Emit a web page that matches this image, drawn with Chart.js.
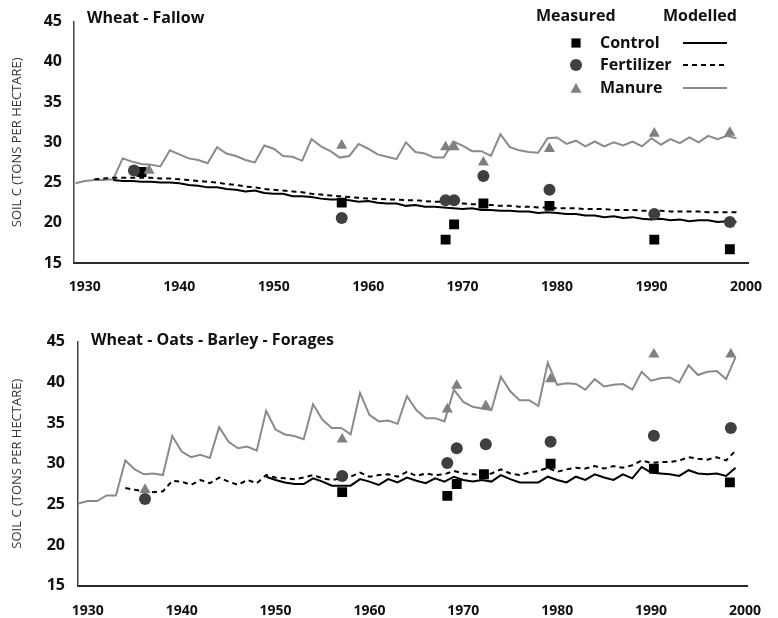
<!DOCTYPE html>
<html><head><meta charset="utf-8">
<script src="https://cdn.jsdelivr.net/npm/chart.js@4.4.1/dist/chart.umd.min.js"></script>
<style>
html,body{margin:0;padding:0;background:#fff;}
#wrap{position:relative;width:778px;height:618px;overflow:hidden;}
canvas{position:absolute;left:0;}
</style></head><body>
<div id="wrap">
<canvas id="c1" width="778" height="300" style="top:0px"></canvas>
<canvas id="c2" width="778" height="318" style="top:300px"></canvas>
</div>
<script>
// ---------- DATA ----------
const xTickYears = [1930, 1940, 1950, 1960, 1970, 1980, 1990, 2000];
const yTickValues = [15, 20, 25, 30, 35, 40, 45];
const modelYears = [1929,1930,1931,1932,1933,1934,1935,1936,1937,1938,1939,1940,1941,1942,1943,1944,1945,1946,1947,1948,1949,1950,1951,1952,1953,1954,1955,1956,1957,1958,1959,1960,1961,1962,1963,1964,1965,1966,1967,1968,1969,1970,1971,1972,1973,1974,1975,1976,1977,1978,1979,1980,1981,1982,1983,1984,1985,1986,1987,1988,1989,1990,1991,1992,1993,1994,1995,1996,1997,1998,1999];

// Wheat - Fallow (modelled)
const topManureModel = [24.9,25.2,25.3,25.3,25.4,28.0,27.6,27.3,27.2,27.0,29.0,28.5,28.0,27.8,27.4,29.4,28.6,28.3,27.8,27.5,29.6,29.2,28.3,28.2,27.7,30.4,29.5,28.9,28.1,28.3,29.8,29.2,28.5,28.2,27.9,30.0,28.8,28.6,28.1,28.1,30.1,29.6,28.9,28.9,28.3,31.0,29.4,29.0,28.8,28.7,30.5,30.6,29.8,30.2,29.5,30.1,29.5,30.0,29.6,30.1,29.5,30.5,29.7,30.4,29.9,30.6,30.0,30.8,30.4,30.8,30.5];
const topFertilizerModel = [null,null,25.4,25.5,25.6,25.6,25.6,25.6,25.6,25.5,25.5,25.4,25.3,25.2,25.1,25.0,24.8,24.7,24.5,24.4,24.2,24.1,24.0,23.9,23.8,23.6,23.5,23.4,23.3,23.2,23.1,23.0,23.0,22.9,22.9,22.8,22.8,22.7,22.6,22.6,22.5,22.4,22.3,22.3,22.2,22.1,22.1,22.0,22.0,21.9,21.9,21.8,21.8,21.8,21.7,21.7,21.7,21.6,21.6,21.6,21.5,21.5,21.5,21.4,21.4,21.4,21.4,21.3,21.3,21.3,21.3];
const topControlModel = [null,null,null,null,25.3,25.2,25.2,25.1,25.1,25.0,25.0,24.9,24.7,24.6,24.4,24.4,24.2,24.1,23.9,24.0,23.7,23.6,23.6,23.3,23.3,23.2,23.0,22.9,22.9,22.8,22.6,22.7,22.5,22.4,22.4,22.1,22.2,22.0,22.0,21.9,21.8,21.7,21.8,21.6,21.6,21.5,21.5,21.4,21.4,21.2,21.3,21.2,21.1,21.1,20.9,20.9,20.7,20.8,20.6,20.7,20.5,20.4,20.5,20.3,20.4,20.2,20.3,20.3,20.1,20.2,20.1];

// Wheat - Fallow (measured)
const topControlYears = [1936.0, 1957.2, 1968.2, 1969.1, 1972.2, 1979.2, 1990.3, 1998.3];
const topControlSoilC = [26.3, 22.5, 17.9, 19.8, 22.4, 22.1, 17.9, 16.7];
const topFertilizerYears = [1935.2, 1957.2, 1968.2, 1969.1, 1972.2, 1979.2, 1990.3, 1998.3];
const topFertilizerSoilC = [26.5, 20.6, 22.8, 22.8, 25.8, 24.1, 21.1, 20.1];
const topManureYears = [1936.8, 1957.2, 1968.2, 1969.1, 1972.2, 1979.2, 1990.3, 1998.3];
const topManureSoilC = [26.5, 29.6, 29.4, 29.4, 27.5, 29.2, 31.1, 31.2];

// Wheat - Oats - Barley - Forages (modelled)
const botManureModel = [25.1,25.4,25.4,26.1,26.1,30.4,29.3,28.7,28.8,28.6,33.4,31.5,30.8,31.1,30.7,34.5,32.7,31.9,32.1,31.6,36.5,34.2,33.6,33.4,33.0,37.3,35.4,34.4,34.4,33.6,38.7,36.0,35.2,35.3,34.9,38.3,36.6,35.6,35.6,35.2,39.1,37.6,37.0,36.8,36.6,40.7,38.9,37.8,37.8,37.1,42.4,39.7,39.9,39.8,39.1,40.4,39.5,39.7,39.8,39.1,41.3,40.2,40.5,40.6,40.0,42.1,40.9,41.3,41.4,40.4,43.1];
const botFertilizerModel = [null,null,null,null,null,27.0,26.8,26.6,26.5,26.6,27.9,27.8,27.4,28.0,27.6,28.3,27.8,27.4,28.0,27.6,28.6,28.3,28.2,28.1,28.3,28.6,28.2,28.0,28.2,28.4,28.9,28.4,28.6,28.7,28.4,29.0,28.5,28.8,28.6,28.7,29.1,28.8,28.7,28.6,28.8,29.3,28.8,28.6,28.9,29.1,29.5,29.0,29.3,29.5,29.4,29.7,29.4,29.7,29.5,29.8,30.4,30.1,30.2,30.2,30.4,30.8,30.6,30.5,30.8,30.4,31.6];
const botControlModel = [null,null,null,null,null,null,null,null,null,null,null,null,null,null,null,null,null,null,null,null,28.4,28.0,27.7,27.5,27.5,28.2,27.8,27.3,27.3,27.3,28.1,27.8,27.4,28.1,27.7,28.3,27.9,27.6,28.2,27.8,28.4,28.0,27.8,28.0,27.8,28.6,28.1,27.7,27.7,27.7,28.4,28.0,27.7,28.4,28.0,28.7,28.3,28.0,28.7,28.2,29.6,28.9,28.8,28.7,28.5,29.2,28.8,28.7,28.8,28.5,29.5];

// Wheat - Oats - Barley - Forages (measured)
const botControlYears = [1957.1, 1968.3, 1969.3, 1972.2, 1979.3, 1990.3, 1998.4];
const botControlSoilC = [26.5, 26.05, 27.5, 28.7, 30.0, 29.4, 27.7];
const botFertilizerYears = [1936.1, 1957.1, 1968.3, 1969.3, 1972.4, 1979.3, 1990.3, 1998.5];
const botFertilizerSoilC = [25.65, 28.5, 30.1, 31.9, 32.4, 32.7, 33.45, 34.4];
const botManureYears = [1936.1, 1957.1, 1968.3, 1969.3, 1972.4, 1979.3, 1990.3, 1998.5];
const botManureSoilC = [26.8, 33.0, 36.7, 39.6, 37.1, 40.4, 43.45, 43.45];

// ---------- STYLE ----------
const BOLD = "'Open Sans', 'DejaVu Sans', sans-serif";
const COL_CTRL = '#000000', COL_FERT = '#3f3f3f', COL_MAN = '#808080', COL_MAN_LINE = '#8a8a8a';

function pairs(xs, ys) {
  return xs.map((x, i) => ({x: x, y: ys[i]})).filter(p => p.y !== null);
}

function lineDs(label, ys, color, dash, order) {
  return {type: 'line', label, data: pairs(modelYears, ys), borderColor: color, borderWidth: 2,
    borderDash: dash, pointRadius: 0, tension: 0, fill: false, order, spanGaps: false};
}
function pointDs(label, xs, ys, style, color, r, order) {
  return {type: 'line', label, data: pairs(xs, ys), showLine: false, pointStyle: style,
    pointRadius: r, pointHoverRadius: r, pointBackgroundColor: color, pointBorderColor: color,
    pointBorderWidth: 0, order};
}

function makeOptions(cfg) {
  return {
    responsive: false, animation: false, devicePixelRatio: 1,
    layout: {padding: {top: cfg.padTop, right: cfg.padRight, left: 0, bottom: 0}},
    plugins: {legend: {display: false}, tooltip: {enabled: false}},
    scales: {
      x: {
        type: 'linear', min: cfg.xMin, max: cfg.xMax,
        afterBuildTicks: s => { s.ticks = xTickYears.map(v => ({value: v})); },
        afterFit: s => { s.height = cfg.xAxisHeight; },
        grid: {display: false, drawTicks: false},
        border: {display: true, color: '#2a2a2a', width: 2},
        ticks: {padding: cfg.xPad, autoSkip: false, maxRotation: 0, color: '#111',
          font: {family: BOLD, weight: 'bold', size: 14}, callback: v => String(v)}
      },
      y: {
        min: 15, max: 45,
        afterBuildTicks: s => { s.ticks = yTickValues.map(v => ({value: v})); },
        afterFit: s => { s.width = cfg.yAxisWidth; },
        grid: {display: false, drawTicks: false},
        border: {display: true, color: '#444', width: 1.5},
        ticks: {padding: cfg.yPad, color: '#111', font: {family: BOLD, weight: 'bold', size: 16},
          callback: v => String(v)},
        title: {display: true, text: 'SOIL C (TONS PER HECTARE)', color: '#333',
          font: {family: "'Open Sans', sans-serif", size: 13}, padding: {top: 9, bottom: 0}}
      }
    }
  };
}

function titlePlugin(text, x, y) {
  return {
    id: 'panelTitle',
    afterDraw(chart) {
      const ctx = chart.ctx;
      ctx.save();
      ctx.font = "bold 16px " + BOLD;
      ctx.fillStyle = '#111';
      ctx.textAlign = 'left';
      ctx.textBaseline = 'middle';
      ctx.fillText(text, x, y);
      ctx.restore();
    }
  };
}

const legendPlugin = {
  id: 'twoColLegend',
  afterDraw(chart) {
    const ctx = chart.ctx;
    const H = Chart.helpers;
    ctx.save();
    ctx.fillStyle = '#111';
    ctx.textBaseline = 'middle';
    ctx.textAlign = 'left';
    ctx.font = "bold 16px " + BOLD;
    ctx.fillText('Measured', 536, 16);
    ctx.fillText('Modelled', 663, 16);
    const rows = [
      {label: 'Control', style: 'rect', color: COL_CTRL, r: 6.5, y: 43, line: COL_CTRL, dash: []},
      {label: 'Fertilizer', style: 'circle', color: COL_FERT, r: 6, y: 65, line: COL_CTRL, dash: [5, 4]},
      {label: 'Manure', style: 'triangle', color: COL_MAN, r: 6.4, y: 88, line: COL_MAN_LINE, dash: []}
    ];
    rows.forEach(rw => {
      ctx.fillStyle = rw.color;
      ctx.strokeStyle = rw.color;
      H.drawPoint(ctx, {pointStyle: rw.style, radius: rw.r, rotation: 0, borderWidth: 0}, 576, rw.y + (rw.style === 'triangle' ? 1.5 : 0));
      ctx.fillStyle = '#111';
      ctx.font = "bold 16px " + BOLD;
      ctx.fillText(rw.label, 600, rw.y);
      ctx.beginPath();
      ctx.setLineDash(rw.dash);
      ctx.strokeStyle = rw.line;
      ctx.lineWidth = 2;
      ctx.moveTo(683, rw.y);
      ctx.lineTo(727, rw.y);
      ctx.stroke();
      ctx.setLineDash([]);
    });
    ctx.restore();
  }
};

// ---------- TOP CHART ----------
new Chart(document.getElementById('c1'), {
  type: 'line',
  data: {datasets: [
    pointDs('Control (measured)', topControlYears, topControlSoilC, 'rect', COL_CTRL, 7, 3),
    pointDs('Fertilizer (measured)', topFertilizerYears, topFertilizerSoilC, 'circle', COL_FERT, 6, 2),
    pointDs('Manure (measured)', topManureYears, topManureSoilC, 'triangle', COL_MAN, 6.4, 1),
    lineDs('Control (modelled)', topControlModel, COL_CTRL, [], 5),
    lineDs('Fertilizer (modelled)', topFertilizerModel, COL_CTRL, [5, 4], 6),
    lineDs('Manure (modelled)', topManureModel, COL_MAN_LINE, [], 7)
  ]},
  options: makeOptions({padTop: 18, padRight: 18, xMin: 1928.85, xMax: 2000.31, xAxisHeight: 37,
    xPad: 16, yAxisWidth: 74, yPad: 12}),
  plugins: [titlePlugin('Wheat - Fallow', 87, 18), legendPlugin]
});

// ---------- BOTTOM CHART ----------
new Chart(document.getElementById('c2'), {
  type: 'line',
  data: {datasets: [
    pointDs('Control (measured)', botControlYears, botControlSoilC, 'rect', COL_CTRL, 7, 1),
    pointDs('Fertilizer (measured)', botFertilizerYears, botFertilizerSoilC, 'circle', COL_FERT, 6, 2),
    pointDs('Manure (measured)', botManureYears, botManureSoilC, 'triangle', COL_MAN, 6.4, 3),
    lineDs('Control (modelled)', botControlModel, COL_CTRL, [], 5),
    lineDs('Fertilizer (modelled)', botFertilizerModel, COL_CTRL, [5, 4], 6),
    lineDs('Manure (modelled)', botManureModel, COL_MAN_LINE, [], 7)
  ]},
  options: makeOptions({padTop: 41.7, padRight: 15, xMin: 1928.96, xMax: 2000.31, xAxisHeight: 32.3,
    xPad: 17, yAxisWidth: 78, yPad: 13}),
  plugins: [titlePlugin('Wheat - Oats - Barley - Forages', 91, 40)]
});
</script>
</body></html>
